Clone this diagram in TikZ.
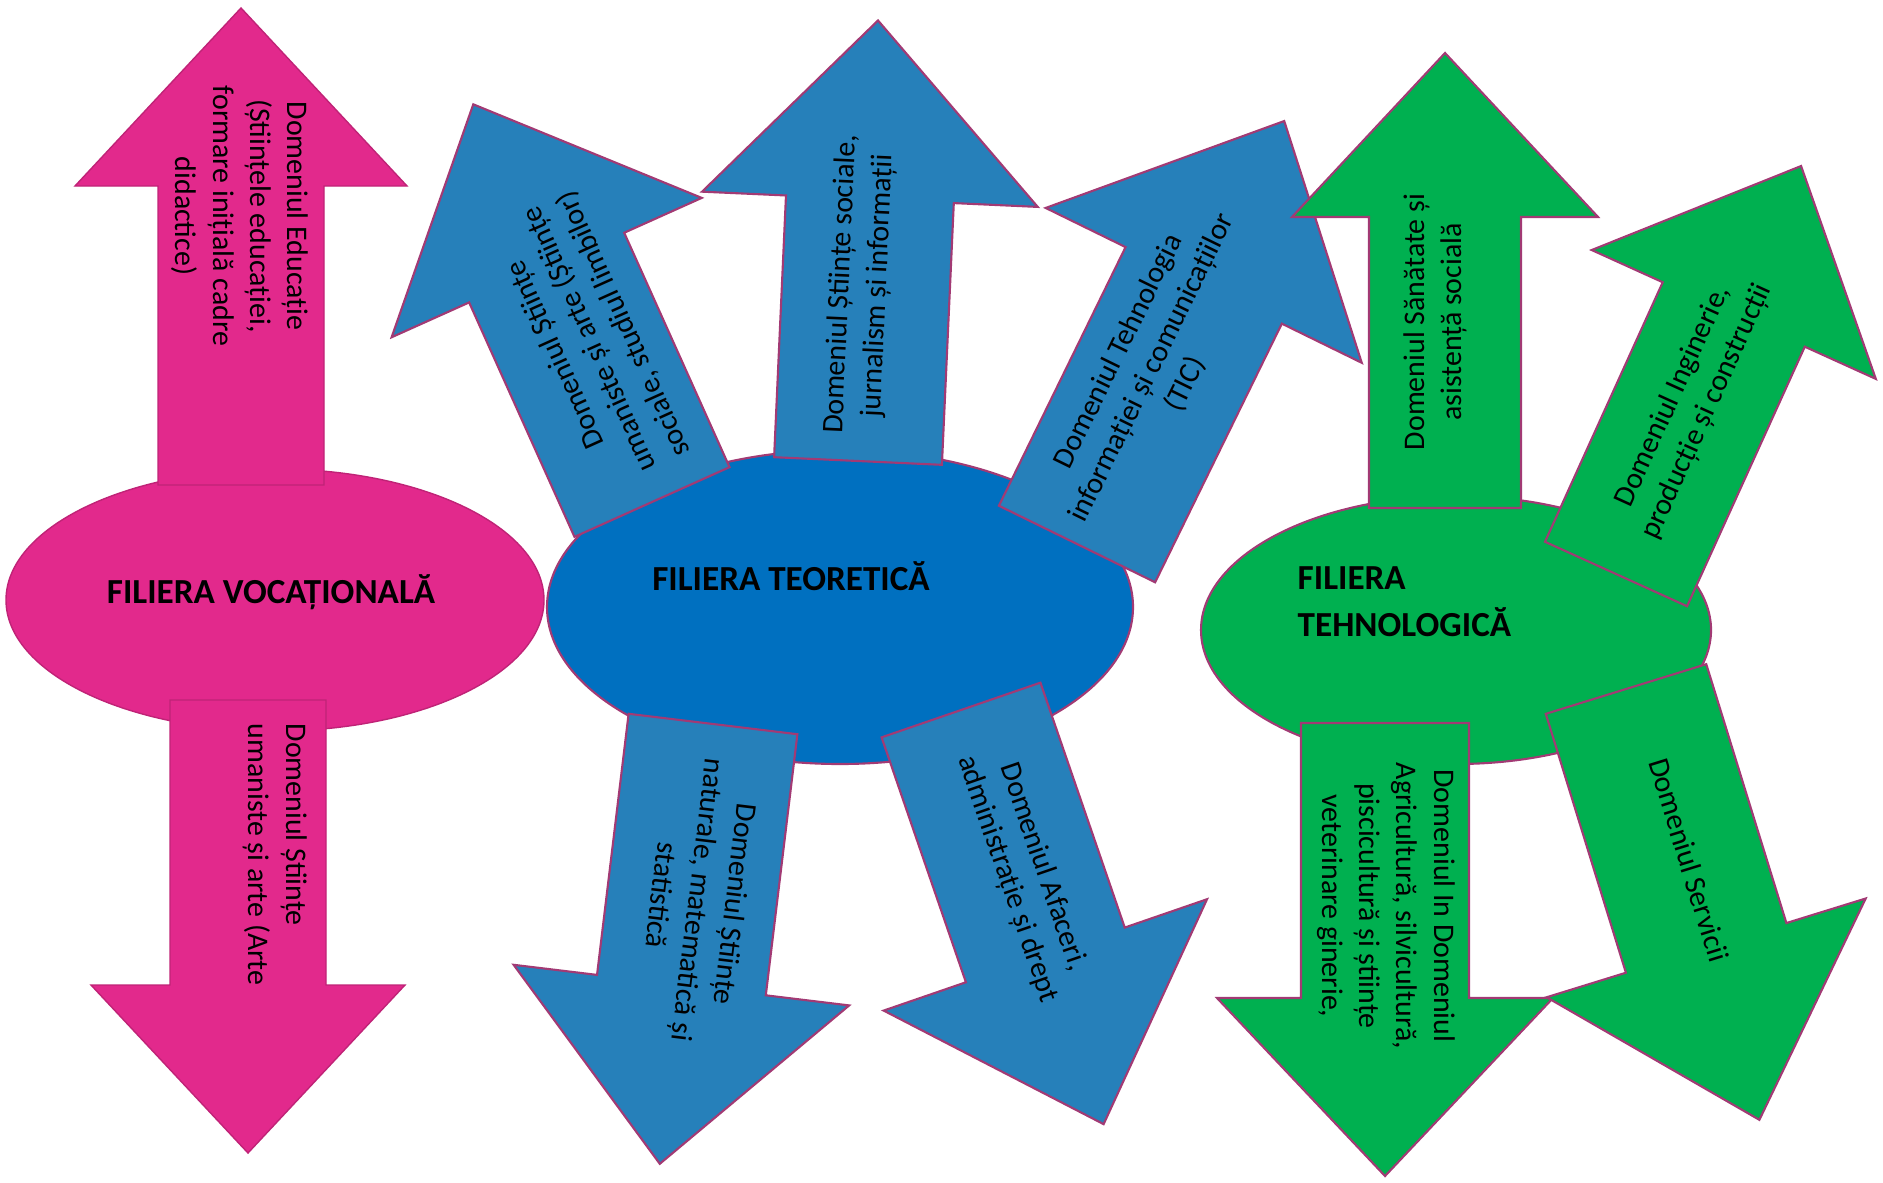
\documentclass[tikz,border=0pt]{standalone}
\usepackage{fontspec}
\setmainfont{Carlito}

\definecolor{vocpink}{HTML}{E2298C}
\definecolor{teoblue}{HTML}{2680BA}
\definecolor{teoellipse}{HTML}{0070C0}
\definecolor{tehgreen}{HTML}{00B050}
\definecolor{edgeline}{HTML}{A23A74}

\begin{document}
\begin{tikzpicture}[x=0.01cm, y=-0.01cm,
		pinkshape/.style={fill=vocpink, draw=vocpink!85!black, line width=0.4pt},
		blueshape/.style={fill=teoblue, draw=edgeline, line width=0.6pt},
		greenshape/.style={fill=tehgreen, draw=edgeline, line width=0.6pt},
		domtext/.style={align=center, inner sep=0pt, font=\fontsize{8.5}{10.6}\selectfont},
		filtitle/.style={inner sep=0pt, font=\fontsize{10}{13.1}\selectfont\bfseries}]
	\useasboundingbox (0, 0) rectangle (1883, 1182);

	% the three ellipses
	\draw[pinkshape] (275, 600) ellipse [x radius=269, y radius=131];
	\draw[fill=teoellipse, draw=edgeline, line width=0.6pt] (840, 607) ellipse [x radius=293, y radius=157];
	\draw[greenshape] (1456, 630) ellipse [x radius=255, y radius=134];

	% filiera vocationala
	\begin{scope}[shift={(241, 485)}, rotate=90]
		\draw[pinkshape] (0, -83)--(299, -83)--(299, -166)--(477, 0)--(299, 166)--(299, 83)--(0, 83)--cycle;
	\end{scope}
	\begin{scope}[shift={(248, 700)}, rotate=-90]
		\draw[pinkshape] (0, -78)--(285, -78)--(285, -157)--(453, 0)--(285, 157)--(285, 78)--(0, 78)--cycle;
	\end{scope}

	% filiera teoretica
	\begin{scope}[shift={(652, 502)}, rotate=114.2]
		\draw[blueshape] (0, -85)--(257, -85)--(257, -170)--(436, 0)--(257, 170)--(257, 85)--(0, 85)--cycle;
	\end{scope}
	\begin{scope}[shift={(858, 461)}, rotate=87.4]
		\draw[blueshape] (0, -84)--(262, -84)--(262, -168)--(441, 0)--(262, 168)--(262, 84)--(0, 84)--cycle;
	\end{scope}
	\begin{scope}[shift={(1077, 544)}, rotate=63.9]
		\draw[blueshape] (0, -87)--(288, -87)--(288, -176)--(471, 0)--(288, 176)--(288, 87)--(0, 87)--cycle;
	\end{scope}
	\begin{scope}[shift={(713, 724)}, rotate=-96.9]
		\draw[blueshape] (0, -85)--(263, -85)--(263, -169)--(443, 0)--(263, 169)--(263, 85)--(0, 85)--cycle;
	\end{scope}
	\begin{scope}[shift={(961, 710)}, rotate=-71]
		\draw[blueshape] (0, -84)--(259, -84)--(259, -171)--(438, 0)--(259, 171)--(259, 84)--(0, 84)--cycle;
	\end{scope}

	% filiera tehnologica
	\begin{scope}[shift={(1445, 508)}, rotate=90]
		\draw[greenshape] (0, -76)--(291, -76)--(291, -153)--(455, 0)--(291, 153)--(291, 76)--(0, 76)--cycle;
	\end{scope}
	\begin{scope}[shift={(1616, 574)}, rotate=65.6]
		\draw[greenshape] (0, -78)--(285, -78)--(285, -156)--(448, 0)--(285, 156)--(285, 78)--(0, 78)--cycle;
	\end{scope}
	\begin{scope}[shift={(1385, 723)}, rotate=-90]
		\draw[greenshape] (0, -84)--(275, -84)--(275, -168)--(453, 0)--(275, 168)--(275, 84)--(0, 84)--cycle;
	\end{scope}
	\begin{scope}[shift={(1626, 689)}, rotate=-72.8]
		\draw[greenshape] (0, -84)--(271, -84)--(271, -167)--(451, 0)--(271, 167)--(271, 84)--(0, 84)--cycle;
	\end{scope}

	% titles
	\node[filtitle, anchor=base] (voctitle) at (271, 603) {FILIERA VOCAȚIONALĂ};
	\node[filtitle, anchor=base] (teotitle) at (791, 590) {FILIERA TEORETICĂ};
	\node[filtitle, anchor=base west, align=left] (tehtitle) at (1297, 636) {FILIERA\\TEHNOLOGICĂ};

	% domains
	\node[domtext, rotate=-90] (educatie) at (240, 216) {Domeniul Educație\\(Științele educației,\\formare inițială cadre\\didactice)};
	\node[domtext, rotate=-90, anchor=west, align=left] (arte) at (275, 723) {Domeniul Științe\\umaniste și arte (Arte};
	\node[domtext, rotate=114.2] (umaniste) at (590, 339) {Domeniul Științe\\umaniste și arte (Științe\\sociale, studiul limbilor)};
	\node[domtext, rotate=87.4] (sociale) at (860, 285) {Domeniul Științe sociale,\\jurnalism și informații};
	\node[domtext, rotate=63.9] (tic) at (1152, 368) {Domeniul Tehnologia\\informației și comunicațiilor\\(TIC)};
	\node[domtext, rotate=-96.9] (naturale) at (699, 900) {Domeniul Științe\\naturale, matematică și\\statistică};
	\node[domtext, rotate=-71] (afaceri) at (1025, 873) {Domeniul Afaceri,\\administrație și drept};
	\node[domtext, rotate=90] (sanatate) at (1435, 322) {Domeniul Sănătate și\\asistență socială};
	\node[domtext, rotate=65.6] (inginerie) at (1690, 404) {Domeniul Inginerie,\\producție și construcții};
	\node[domtext, rotate=-90] (agricultura) at (1386, 906) {Domeniul In Domeniul\\Agricultură, silvicultură,\\piscicultură și științe\\veterinare ginerie,};
	\node[domtext, rotate=-72.8] (servicii) at (1689, 860) {Domeniul Servicii};
\end{tikzpicture}
\end{document}
